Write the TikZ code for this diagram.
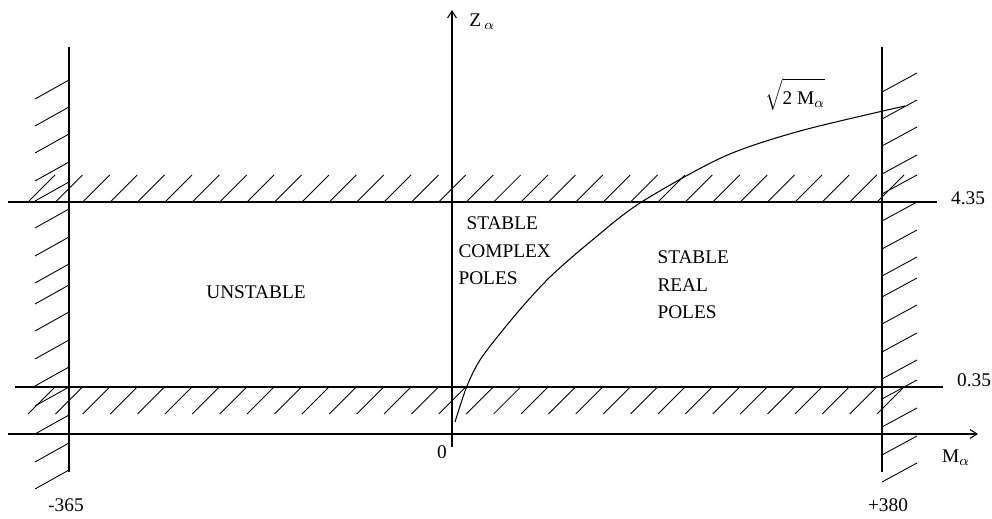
\documentclass[tikz,border=0pt]{standalone}
\usepackage{fontspec}
\setmainfont{Liberation Serif}
\usetikzlibrary{arrows.meta}
\begin{document}
\begin{tikzpicture}[x=0.02cm, y=-0.02cm, font=\fontsize{11}{12}\selectfont, line width=0.6pt, >={Straight Barb[length=4pt,width=5pt]}]
\tikzstyle{lbl}=[inner sep=0pt]
\tikzstyle{txt}=[inner sep=0pt, anchor=west]
\tikzstyle{hatch}=[line width=0.5pt]
\useasboundingbox (0,0) rectangle (992,519);
% walls and bands
\coordinate (wallLT) at (69,47); \coordinate (wallLB) at (69,472);
\coordinate (wallRT) at (882,47); \coordinate (wallRB) at (882,472);
\coordinate (bandTL) at (8,202); \coordinate (bandTR) at (937,202);
\coordinate (bandBL) at (15,387); \coordinate (bandBR) at (943,387);
\draw (wallLT) -- (wallLB);
\draw (wallRT) -- (wallRB);
\draw (bandTL) -- (bandTR);
\draw (bandBL) -- (bandBR);
\foreach \y in {80,107,134,162,182,209,237,264,285,312,340,367,387,415,443,470} {
  \draw[hatch] (69,\y) -- (35,\y+19);
  \draw[hatch] (882,\y+12) -- (917,\y-7);
}
\foreach \i in {0,...,31} {
  \draw[hatch] (28+27.39*\i,202) -- ++(27,-27);
  \draw[hatch] (28+27.39*\i,414) -- ++(27,-27);
}
% axes
\coordinate (xaxL) at (8,434); \coordinate (xaxR) at (978,434);
\coordinate (zaxB) at (452,447); \coordinate (zaxT) at (452,10);
\draw[->] (xaxL) -- (xaxR);
\draw[->] (zaxB) -- (zaxT);
% curve
\draw plot[smooth] coordinates {(455,422) (467,386) (482,357) (517,313) (550,277) (590,242) (640,203) (723,157) (800,131) (905,106)};
% labels
\node[lbl] (zlab) at (482,22) {Z\,$_{\alpha}$};
\node[lbl] (mlab) at (956,458) {M$_{\alpha}$};
\node[lbl] (root) at (795,94) {$\sqrt{\rule{0pt}{12pt}\hbox{2 M}_{\alpha}}$};
\node[lbl] (zero) at (442,452) {0};
\node[lbl] (left) at (66,505) {-365};
\node[lbl] (right) at (888,505) {+380};
\node[lbl] (top) at (968,198) {4.35};
\node[lbl] (bot) at (974,380) {0.35};
\node[lbl] (unst) at (256,292) {UNSTABLE};
\node[txt] (cpx1) at (466,223) {STABLE};
\node[txt] (cpx2) at (458,251) {COMPLEX};
\node[txt] (cpx3) at (458,278) {POLES};
\node[txt] (real1) at (657,257) {STABLE};
\node[txt] (real2) at (657,285) {REAL};
\node[txt] (real3) at (657,312) {POLES};
\end{tikzpicture}
\end{document}
